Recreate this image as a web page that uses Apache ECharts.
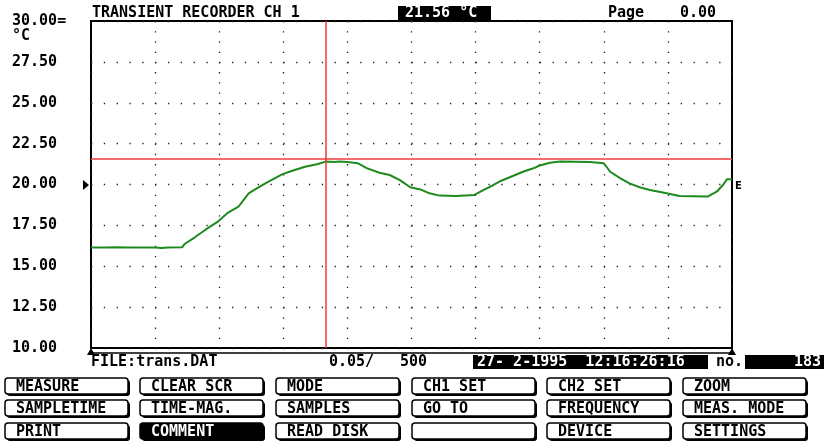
<!DOCTYPE html>
<html>
<head>
<meta charset="utf-8">
<script src="https://cdn.jsdelivr.net/npm/echarts@6/dist/echarts.min.js"></script>
<style>
  html, body { margin: 0; background: #fff; }
  #chart { width: 824px; height: 443px; }
</style>
</head>
<body>
<div id="chart"></div>
<script>
// sample number (0..500) and temperature readings of CH 1
const sampleNo = [0, 10, 20, 30, 40, 50, 55, 60, 71, 73, 81, 89, 99, 107, 115, 123, 128, 136, 149, 157, 167, 177, 183, 190, 194, 200, 208, 215, 225, 233, 241, 249, 257, 264, 272, 285, 299, 306, 314, 320, 329, 337, 345, 350, 358, 366, 389, 400, 405, 413, 420, 428, 436, 449, 459, 470, 481, 488, 493, 496, 500];
const tempC = [16.15, 16.15, 16.16, 16.15, 16.15, 16.14, 16.11, 16.15, 16.16, 16.36, 16.77, 17.22, 17.73, 18.28, 18.64, 19.46, 19.7, 20.07, 20.62, 20.84, 21.09, 21.25, 21.4, 21.38, 21.4, 21.38, 21.3, 21.0, 20.72, 20.58, 20.27, 19.83, 19.7, 19.46, 19.32, 19.3, 19.36, 19.66, 19.97, 20.23, 20.52, 20.78, 20.99, 21.16, 21.33, 21.4, 21.38, 21.3, 20.78, 20.38, 20.07, 19.83, 19.66, 19.46, 19.3, 19.28, 19.26, 19.56, 19.97, 20.32, 20.32];

const cursorSample = 183;
const cursorTemp = 21.56;

const headerTitle = "TRANSIENT RECORDER CH 1";
const fileLabel = "FILE:trans.DAT";
const timeBase = "0.05/";
const sampleCount = "500";
const dateStamp = "27- 2-1995  12:16:26:16";

const buttonRows = [
  ["MEASURE", "CLEAR SCR", "MODE", "CH1 SET", "CH2 SET", "ZOOM"],
  ["SAMPLETIME", "TIME-MAG.", "SAMPLES", "GO TO", "FREQUENCY", "MEAS. MODE"],
  ["PRINT", "COMMENT", "READ DISK", "", "DEVICE", "SETTINGS"],
];
const activeButton = "COMMENT";

const FONT = 'bold 15px "DejaVu Sans Mono"';

function txt(text, x, y, fill) {
  return {
    type: "text", x: x, y: y, silent: true,
    style: { text: text, font: FONT, fill: fill || "#000", textVerticalAlign: "middle" },
  };
}

function box(x, y, w, h, fill) {
  return { type: "rect", silent: true, shape: { x: x, y: y, width: w, height: h }, style: { fill: fill || "#000" } };
}

function buildButtons() {
  const colX = [5, 140, 276, 412, 547, 683];
  const rowY = [378, 400, 423];
  const out = [];
  buttonRows.forEach((row, r) => {
    row.forEach((label, c) => {
      const x = colX[c], y = rowY[r];
      const on = label === activeButton;
      out.push({ type: "rect", silent: true, shape: { x: x + 2, y: y + 2, width: 123, height: 16, r: 3 }, style: { fill: "#000" } });
      out.push({ type: "rect", silent: true, shape: { x: x, y: y, width: 123, height: 16, r: 3 },
        style: { fill: on ? "#000" : "#fff", stroke: "#000", lineWidth: 1.5 } });
      if (label) out.push(txt(label, x + 11, y + 9, on ? "#fff" : "#000"));
    });
  });
  return out;
}

const chart = echarts.init(document.getElementById("chart"));

chart.setOption({
  animation: false,
  backgroundColor: "#fff",
  grid: { left: 91, top: 21, right: 92, bottom: 95, show: true, borderColor: "#000", borderWidth: 2, backgroundColor: "transparent" },
  xAxis: {
    type: "value", min: 0, max: 500, interval: 50,
    axisLine: { show: false }, axisTick: { show: false }, axisLabel: { show: false },
    splitLine: { show: true, lineStyle: { color: "#222", width: 1.3, type: [1.3, 8.92] } },
  },
  yAxis: {
    type: "value", min: 10, max: 30, interval: 2.5,
    axisLine: { show: false }, axisTick: { show: false },
    axisLabel: {
      align: "left", margin: 79, color: "#000",
      fontFamily: "DejaVu Sans Mono", fontWeight: "bold", fontSize: 15,
      formatter: (v) => v === 30 ? v.toFixed(2) + "=" : v.toFixed(2),
    },
    splitLine: { show: true, lineStyle: { color: "#222", width: 1.3, type: [1.3, 11.52] } },
  },
  series: [{
    type: "line",
    data: sampleNo.map((s, i) => [s, tempC[i]]),
    showSymbol: false,
    lineStyle: { color: "#1e8a1e", width: 2 },
    z: 3,
    markLine: {
      silent: true, symbol: "none", label: { show: false },
      lineStyle: { color: "#f03a3a", width: 1.5, type: "solid" },
      data: [{ yAxis: cursorTemp }, { xAxis: cursorSample }],
    },
  }],
  graphic: [
    txt(headerTitle, 92, 13),
    box(398, 6, 93, 14),
    txt(cursorTemp.toFixed(2) + " °C", 405, 13, "#fff"),
    txt("Page", 608, 13),
    txt("0.00", 680, 13),
    txt("°C", 12, 36),
    // channel markers
    { type: "polygon", silent: true, shape: { points: [[83, 180], [89, 185], [83, 190]] }, style: { fill: "#000" } },
    { type: "text", x: 735, y: 186, silent: true, style: { text: "E", font: 'bold 10px "DejaVu Sans"', fill: "#000", textVerticalAlign: "middle" } },
    // status line
    { type: "line", silent: true, shape: { x1: 91, y1: 353, x2: 732, y2: 353 }, style: { stroke: "#000", lineWidth: 1.5 } },
    { type: "polygon", silent: true, shape: { points: [[87, 355], [91, 348], [95, 355]] }, style: { fill: "#000" } },
    { type: "polygon", silent: true, shape: { points: [[728, 355], [732, 348], [736, 355]] }, style: { fill: "#000" } },
    txt(fileLabel, 91, 362),
    txt(timeBase, 329, 362),
    txt(sampleCount, 400, 362),
    box(473, 355, 235, 14),
    txt(dateStamp, 477, 362, "#fff"),
    txt("no.", 716, 362),
    box(745, 355, 79, 14),
    txt(String(cursorSample), 794, 362, "#fff"),
  ].concat(buildButtons()),
});
</script>
</body>
</html>
